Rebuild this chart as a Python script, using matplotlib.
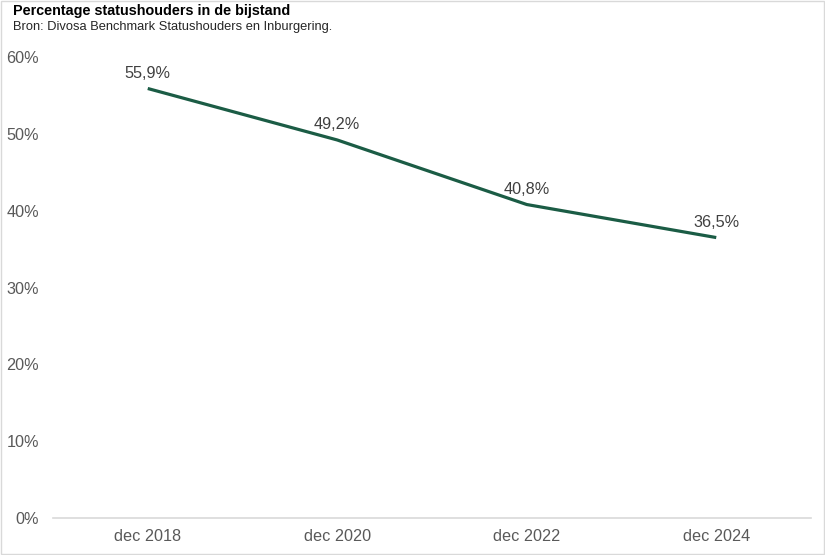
import matplotlib
matplotlib.use('Agg')
import matplotlib.pyplot as plt

plt.rcParams['font.family'] = ['Liberation Sans', 'DejaVu Sans']

# data
periodes = ['dec 2018', 'dec 2020', 'dec 2022', 'dec 2024']
percentages = [55.9, 49.2, 40.8, 36.5]
labels = ['55,9%', '49,2%', '40,8%', '36,5%']
yticks = [0, 10, 20, 30, 40, 50, 60]

fig = plt.figure(figsize=(8.25, 5.55), dpi=100)
ax = fig.add_axes([53/825, 1 - 518/555, (811 - 53)/825, (518 - 57)/555])

x = range(len(periodes))
ax.plot(x, percentages, color='#1b5c45', linewidth=2.3, solid_capstyle='butt')

for i, (v, lab) in enumerate(zip(percentages, labels)):
    ax.annotate(lab, (i, v), xytext=(0, 5.5), textcoords='offset points',
                ha='center', va='bottom', fontsize=11.7, color='#404040')

ax.set_xlim(-0.5, len(periodes) - 0.5)
ax.set_ylim(0, 60)
ax.set_xticks(list(x))
ax.set_xticklabels(periodes)
ax.set_yticks(yticks)
ax.set_yticklabels([f'{t}%' for t in yticks])
ax.tick_params(axis='both', length=0, labelsize=11.7, labelcolor='#595959')
ax.tick_params(axis='y', pad=10)
ax.tick_params(axis='x', pad=8)

for s in ['top', 'right', 'left']:
    ax.spines[s].set_visible(False)
ax.spines['bottom'].set_color('#d9d9d9')
ax.spines['bottom'].set_linewidth(1.2)

fig.text(13/825, 1 - 4/555, 'Percentage statushouders in de bijstand',
         fontsize=10.4, fontweight='bold', color='black', va='top', ha='left')
fig.text(13/825, 1 - 21/555, 'Bron: Divosa Benchmark Statushouders en Inburgering.',
         fontsize=9.3, color='#262626', va='top', ha='left')

# figure frame
fig.patches.append(plt.Rectangle((0.001, 0.001), 0.998, 0.998, transform=fig.transFigure,
                                 fill=False, edgecolor='#d9d9d9', linewidth=1))

fig.savefig('out.png', dpi=100)
